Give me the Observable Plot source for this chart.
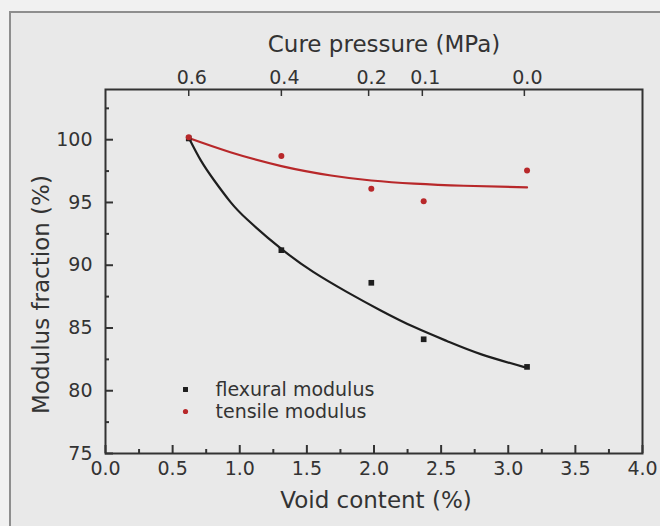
<!DOCTYPE html>
<html>
<head>
<meta charset="utf-8">
<script src="https://cdn.jsdelivr.net/npm/d3@7"></script>
<script src="https://cdn.jsdelivr.net/npm/@observablehq/plot@0.6"></script>
<style>
  html, body { margin: 0; padding: 0; background: #f1f1f1; }
  #wrap { position: relative; width: 660px; height: 526px; overflow: hidden; }
  #panel { position: absolute; left: 9px; top: 11px; width: 700px; height: 600px;
           background: #e9e9e9; border-left: 2px solid #8e8e8e; border-top: 2px solid #8e8e8e; }
  #chart { position: absolute; left: 0; top: 0; }
</style>
</head>
<body>
<div id="wrap"><div id="panel"></div><div id="chart"></div></div>
<script>
// Measured data points
const voidContent = [0.62, 1.31, 1.98, 2.37, 3.14];
const flexural    = [100.1, 91.2, 88.6, 84.1, 81.9];
const tensile     = [100.2, 98.7, 96.1, 95.1, 97.55];

// Fitted curves
const flexFitX = [0.62, 0.71, 0.81, 0.93, 1.06, 1.31, 1.55, 1.80, 2.05, 2.30, 2.55, 2.80, 3.12];
const flexFitY = [100.16, 98.35, 96.75, 95.05, 93.6, 91.3, 89.45, 87.86, 86.4, 85.07, 83.93, 82.9, 81.88];
const tensFitX = [0.62, 0.93, 1.31, 1.68, 1.98, 2.30, 2.67, 3.14];
const tensFitY = [100.13, 99.0, 97.9, 97.15, 96.75, 96.5, 96.33, 96.2];

// Axis ticks
const xMajor = [0, 0.5, 1, 1.5, 2, 2.5, 3, 3.5, 4];
const xMinor = [0.25, 0.75, 1.25, 1.75, 2.25, 2.75, 3.25, 3.75];
const yMajor = [75, 80, 85, 90, 95, 100];
const yMinor = [77.5, 82.5, 87.5, 92.5, 97.5, 102.5];
const pressureLabels = ["0.6", "0.4", "0.2", "0.1", "0.0"];
const pressureAtVoid = [0.62, 1.31, 1.96, 2.36, 3.12];

const seriesNames = ["flexural modulus", "tensile modulus"];
const xTitle = "Void content (%)";
const yTitle = "Modulus fraction (%)";
const topTitle = "Cure pressure (MPa)";

const BLACK = "#1e1e1e", RED = "#b8282a", AX = "#333";
const FONT = "DejaVu Sans, sans-serif";

const flexPts = voidContent.map((x, i) => ({x, y: flexural[i]}));
const tensPts = voidContent.map((x, i) => ({x, y: tensile[i]}));
const flexFit = flexFitX.map((x, i) => ({x, y: flexFitY[i]}));
const tensFit = tensFitX.map((x, i) => ({x, y: tensFitY[i]}));

const blank = () => "";

const chart = Plot.plot({
  width: 660, height: 526,
  marginLeft: 105, marginRight: 18, marginTop: 89, marginBottom: 73,
  style: {background: "transparent", color: "#333", fontFamily: FONT, overflow: "visible"},
  x: {domain: [0, 4]},
  y: {domain: [75, 104]},
  marks: [
    // bottom axis
    Plot.axisX({anchor: "bottom", ticks: xMajor, tickSize: -8, tickFormat: blank, label: null, stroke: AX, strokeWidth: 2}),
    Plot.axisX({anchor: "bottom", ticks: xMinor, tickSize: -4, tickFormat: blank, label: null, stroke: AX, strokeWidth: 2}),
    Plot.axisX({anchor: "bottom", ticks: xMajor, tickSize: 0, tickPadding: 8, tickFormat: d3.format(".1f"), label: null, fontSize: 19}),
    // left axis
    Plot.axisY({anchor: "left", ticks: yMajor, tickSize: -8, tickFormat: blank, label: null, stroke: AX, strokeWidth: 2}),
    Plot.axisY({anchor: "left", ticks: yMinor, tickSize: -4, tickFormat: blank, label: null, stroke: AX, strokeWidth: 2}),
    Plot.axisY({anchor: "left", ticks: yMajor, tickSize: 0, tickPadding: 13, label: null, fontSize: 19}),
    // top axis (cure pressure)
    Plot.axisX({anchor: "top", ticks: pressureAtVoid, tickSize: -6, tickFormat: blank, label: null, stroke: AX, strokeWidth: 1.5}),
    Plot.axisX({anchor: "top", ticks: pressureAtVoid, tickSize: 0, tickPadding: 6, dx: 3,
                tickFormat: (d, i) => pressureLabels[i], label: null, fontSize: 19}),
    Plot.frame({stroke: AX, strokeWidth: 2}),
    // titles
    Plot.text([xTitle], {frameAnchor: "bottom", text: d => d, dx: 2, dy: 47, lineAnchor: "middle", fontSize: 23}),
    Plot.text([topTitle], {frameAnchor: "top", text: d => d, dx: 10, dy: -45, lineAnchor: "middle", fontSize: 23}),
    Plot.text([yTitle], {frameAnchor: "left", text: d => d, dx: -64, dy: 23, rotate: -90, textAnchor: "middle", lineAnchor: "middle", fontSize: 23}),
    // fitted curves
    Plot.line(flexFit, {x: "x", y: "y", stroke: BLACK, strokeWidth: 2.2, curve: "natural"}),
    Plot.line(tensFit, {x: "x", y: "y", stroke: RED, strokeWidth: 2.2, curve: "natural"}),
    // data points
    Plot.dot(flexPts, {x: "x", y: "y", symbol: "square", fill: BLACK, r: 3.2}),
    Plot.dot(tensPts, {x: "x", y: "y", fill: RED, r: 3}),
    // legend
    Plot.dot([seriesNames[0]], {frameAnchor: "bottom-left", dx: 80, dy: -64, symbol: "square", fill: BLACK, r: 2.8}),
    Plot.dot([seriesNames[1]], {frameAnchor: "bottom-left", dx: 80, dy: -42, fill: RED, r: 2.6}),
    Plot.text([seriesNames[0]], {frameAnchor: "bottom-left", text: d => d, dx: 110, dy: -64, textAnchor: "start", lineAnchor: "middle", fontSize: 19}),
    Plot.text([seriesNames[1]], {frameAnchor: "bottom-left", text: d => d, dx: 110, dy: -42, textAnchor: "start", lineAnchor: "middle", fontSize: 19})
  ]
});
document.getElementById("chart").appendChild(chart);
</script>
</body>
</html>
